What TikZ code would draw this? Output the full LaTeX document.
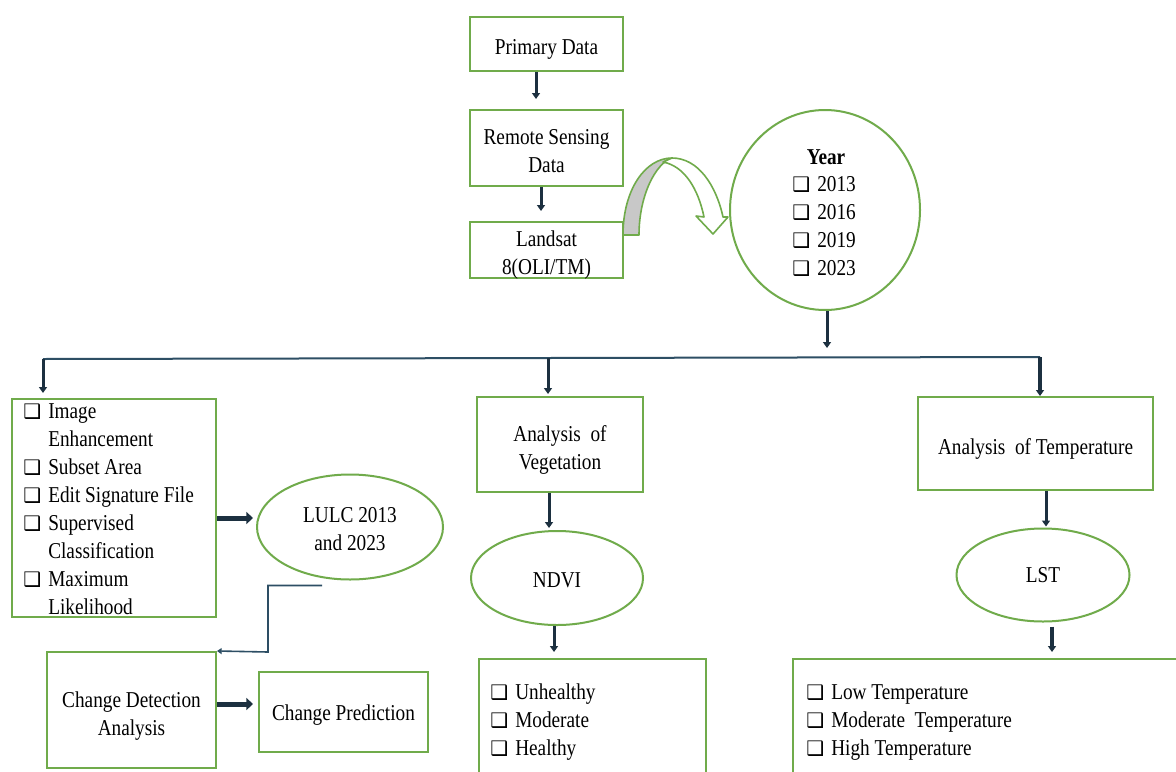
\documentclass[tikz,border=0pt]{standalone}
\usepackage{fontspec}
\setmainfont{Liberation Serif}[FakeStretch=0.85]
\newfontfamily\dejavu{DejaVu Sans}
\usetikzlibrary{arrows.meta,shapes.geometric,calc}
\definecolor{bgreen}{RGB}{112,171,75}
\definecolor{navy}{RGB}{28,48,64}
\definecolor{lnav}{RGB}{45,78,100}
\definecolor{bandgray}{RGB}{200,200,200}
\newcommand\chkbox{\makebox[18.75pt][l]{\dejavu\fontsize{15}{15}\selectfont ❑}}
\newcommand\nochk{\hspace*{18.75pt}}
\newcommand\dn[2]{\raisebox{-#1}[\height][\depth]{\begin{tabular}{@{}c@{}}#2\end{tabular}}}
\begin{document}
\begin{tikzpicture}[x=0.75pt,y=-0.75pt,
  box/.style={draw=bgreen,line width=1.5pt,fill=white,inner sep=0pt,align=center,font=\fontsize{17}{21}\selectfont},
  oval/.style={ellipse,draw=bgreen,line width=1.5pt,fill=white,inner sep=0pt,align=center,font=\fontsize{17}{21}\selectfont},
  lst/.style={font=\fontsize{17}{21}\selectfont,align=left,inner sep=0pt,anchor=west},
  arr/.style={draw=navy,line width=2.25pt,-{Triangle[width=6pt,length=4.5pt]}},
  bigarr/.style={draw=navy,line width=3.75pt,-{Triangle[width=9pt,length=5pt]}},
  thinarr/.style={draw=lnav,line width=1.2pt,-{Triangle[width=4.5pt,length=3.5pt]}},
  branch/.style={draw=lnav,line width=1.5pt}]

\clip (0,0) rectangle (1176,771);
\fill[white] (0,0) rectangle (1176,771);

% top column
\node[box,minimum width=114.75pt,minimum height=40.5pt] (prim) at (546.5,44) {\dn{3.75pt}{Primary Data}};
\node[box,minimum width=114.75pt,minimum height=57pt] (remote) at (546.5,148) {\dn{3.4pt}{Remote Sensing\\Data}};
\node[box,minimum width=114.75pt,minimum height=40.5pt] (landsat) at (546.5,250) {\dn{3.75pt}{Landsat\\8(OLI/TM)}};

% year circle
\node[oval,minimum width=142.5pt,minimum height=150pt] (year) at (825,210) {};
\node[font=\bfseries\fontsize{17}{21}\selectfont,inner sep=0pt] (yearl) at (826,157) {Year};
\node[lst] (yearlist) at (792,226) {\chkbox 2013\\\chkbox 2016\\\chkbox 2019\\\chkbox 2023};

% curved block arrow
\filldraw[draw=bgreen,fill=bandgray,line width=1.2pt,line join=round]
  (623,235) .. controls (623,190) and (645,158) .. (672,158)
  .. controls (656,163) and (639,195) .. (639,235) -- cycle;
\filldraw[draw=bgreen,fill=white,line width=1.2pt,line join=round]
  (672,158) .. controls (698,158) and (716,185) .. (723,217)
  -- (728,217) -- (713,234) -- (696,216) -- (704,217)
  .. controls (698,188) and (684,166) .. (663,162) -- cycle;

% left branch
\node[box,minimum width=153pt,minimum height=163.5pt] (leftbox) at (114,508) {};
\node[lst] (leftlist) at (23,509) {\chkbox Image\\\nochk Enhancement\\\chkbox Subset Area\\\chkbox Edit Signature File\\\chkbox Supervised\\\nochk Classification\\\chkbox Maximum\\\nochk Likelihood};
\node[oval,minimum width=139.5pt,minimum height=78.75pt] (lulc) at (350,527) {\dn{2.6pt}{LULC 2013\\and 2023}};
\node[box,minimum width=126.75pt,minimum height=87pt] (cd) at (131.5,710) {\dn{4.5pt}{Change Detection\\Analysis}};
\node[box,minimum width=126.75pt,minimum height=60pt] (cp) at (343.5,712) {\dn{2.25pt}{Change Prediction}};

% middle branch
\node[box,minimum width=124.5pt,minimum height=71.25pt] (veg) at (560,444.5) {\dn{4pt}{Analysis~ of\\Vegetation}};
\node[oval,minimum width=129pt,minimum height=70.5pt] (ndvi) at (557,578) {\dn{3pt}{NDVI}};
\node[box,minimum width=170.25pt,minimum height=91.5pt] (veglist) at (592.5,720) {};
\node[lst] (veglistt) at (490,722) {\chkbox Unhealthy\\\chkbox Moderate\\\chkbox Healthy};

% right branch
\node[box,minimum width=176.25pt,minimum height=69.75pt] (temp) at (1035.5,443.5) {\dn{3.75pt}{Analysis~ of Temperature}};
\node[oval,minimum width=129.75pt,minimum height=69.75pt] (lst) at (1043,575) {\dn{1.5pt}{LST}};
\node[box,minimum width=294pt,minimum height=91.5pt] (templist) at (989,720) {};
\node[lst] (templistt) at (806,723) {\chkbox Low Temperature\\\chkbox Moderate~ Temperature\\\chkbox High Temperature};

% connectors
\coordinate (p1) at ($(prim.south)+(-10.5,0)$);
\draw[arr] (p1) -- ($(remote.north -| p1)+(0,-10)$);
\coordinate (p2) at ($(remote.south)+(-5.5,0)$);
\draw[arr] (p2) -- ($(landsat.north -| p2)+(0,-10)$);

\coordinate (y1) at ($(year.south)+(2,0)$);
\coordinate (bc) at (827,358);
\draw[arr] (y1) -- ($(bc)+(0,-10)$);
\coordinate (bl) at (43,359);
\coordinate (bm) at (548,358);
\coordinate (brr) at (1040,357);
\draw[branch] (bl) -- (bm) -- (brr);
\draw[arr] (bl) -- ($(leftbox.north -| bl)+(0,-5)$);
\draw[arr] (bm) -- ($(veg.north -| bm)+(0,-2)$);
\draw[arr,line width=3pt] (brr) -- (temp.north -| brr);

\coordinate (v1) at ($(veg.south)+(-11,0)$);
\draw[arr] (v1) -- ($(ndvi.north -| v1)+(0,-2)$);
\coordinate (t1) at ($(temp.south)+(10.5,0)$);
\draw[arr] (t1) -- ($(lst.north -| t1)+(0,-1)$);
\coordinate (n1) at ($(ndvi.south)+(-3,0)$);
\draw[arr] (n1) -- ($(veglist.north -| n1)+(0,-6)$);
\coordinate (s1) at ($(lst.south)+(9,4)$);
\draw[arr,line width=3pt] (s1) -- ($(templist.north -| s1)+(0,-6)$);

\coordinate (l1) at ($(leftbox.east)+(0,10)$);
\draw[bigarr] (l1) -- ($(lulc.west |- l1)+(-3,0)$);
\coordinate (c1) at ($(cd.east)+(0,-6)$);
\draw[bigarr] (c1) -- ($(cp.west |- c1)+(-5,0)$);

\coordinate (u1) at ($(lulc.south)+(-28,5)$);
\coordinate (u2) at (268,652);
\draw[thinarr] (u1) -| (u2) -- (cd.north east);
\end{tikzpicture}
\end{document}
